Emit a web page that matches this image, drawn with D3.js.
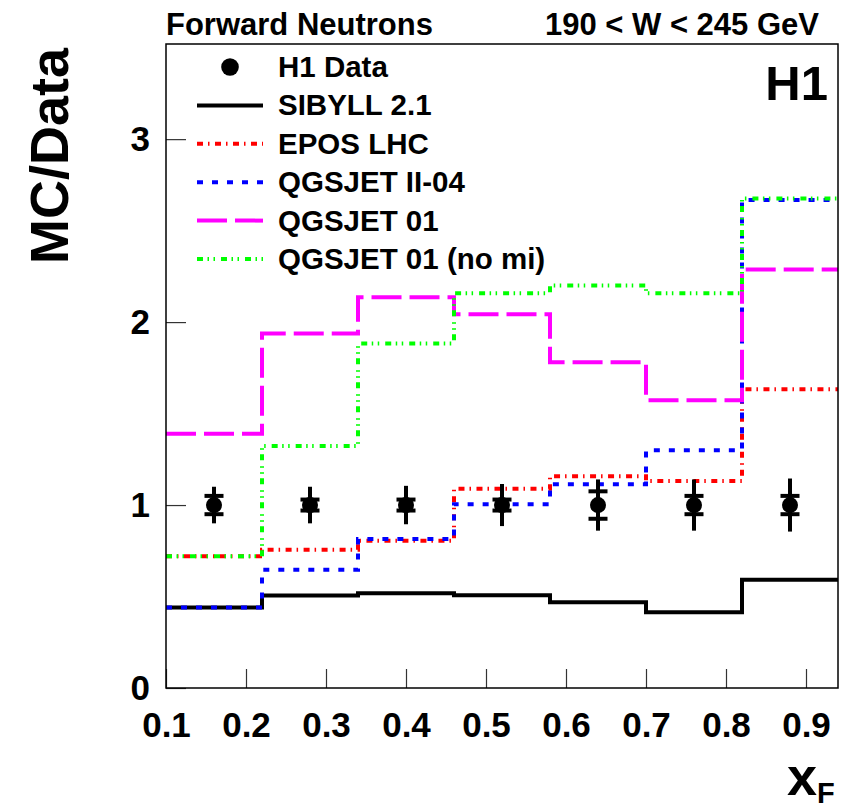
<!DOCTYPE html>
<html>
<head>
<meta charset="utf-8">
<script src="https://cdn.jsdelivr.net/npm/d3@7"></script>
<style>
  body { margin: 0; background: #fff; }
  text { font-family: "Liberation Sans", Arial, Helvetica, sans-serif; font-weight: bold; fill: #000; }
</style>
</head>
<body>
<div id="chart"></div>
<script>
// bins in x_F and the ratios MC/Data
var binEdges = [0.10, 0.22, 0.34, 0.46, 0.58, 0.70, 0.82, 0.94];
var xCentres = [0.16, 0.28, 0.40, 0.52, 0.64, 0.76, 0.88];
var h1Ratio = [1, 1, 1, 1, 1, 1, 1];
var h1StatErr = [0.05, 0.03, 0.03, 0.03, 0.075, 0.05, 0.05];
var h1TotErr = [0.10, 0.10, 0.105, 0.115, 0.14, 0.14, 0.145];
var sibyll = [0.44, 0.505, 0.518, 0.507, 0.469, 0.414, 0.591];
var epos = [0.72, 0.755, 0.805, 1.089, 1.157, 1.131, 1.633];
var qgsII = [0.44, 0.646, 0.815, 1.005, 1.113, 1.299, 2.667];
var qgs01 = [1.39, 1.938, 2.136, 2.043, 1.781, 1.573, 2.288];
var qgs01nomi = [0.72, 1.323, 1.883, 2.157, 2.20, 2.157, 2.676];
var xTicks = [0.1, 0.2, 0.3, 0.4, 0.5, 0.6, 0.7, 0.8, 0.9];
var yTicks = [0, 1, 2, 3];

var models = [
  { name: "SIBYLL 2.1", vals: sibyll, color: "#000000", dash: null },
  { name: "EPOS LHC", vals: epos, color: "#ff0000", dash: "6,5,1.5,5.5" },
  { name: "QGSJET II-04", vals: qgsII, color: "#0000ff", dash: "6,9" },
  { name: "QGSJET 01", vals: qgs01, color: "#ff00ff", dash: "30,8" },
  { name: "QGSJET 01 (no mi)", vals: qgs01nomi, color: "#00ff00", dash: "6,4.5,1.5,4.5,1.5,6" }
];

var svgWidth = 848, svgHeight = 810;
var margin = { top: 44, right: 10, bottom: 122, left: 166 };
var width = svgWidth - margin.left - margin.right;
var height = svgHeight - margin.top - margin.bottom;

var svg = d3.select("#chart").append("svg")
  .attr("width", svgWidth)
  .attr("height", svgHeight);

var g = svg.append("g")
  .attr("transform", `translate(${margin.left}, ${margin.top})`);

var x = d3.scaleLinear().domain([0.1, 0.94]).range([0, width]);
var y = d3.scaleLinear().domain([0, 3.52]).range([height, 0]);

// axes with inward ticks
var xAxis = g.append("g")
  .attr("transform", `translate(0, ${height})`)
  .call(d3.axisBottom(x).tickValues(xTicks).tickSize(-19).tickPadding(24).tickFormat(d3.format(".1f")));
var yAxis = g.append("g")
  .call(d3.axisLeft(y).tickValues(yTicks).tickSize(-20).tickPadding(16).tickFormat(d3.format("d")));

[xAxis, yAxis].forEach(function(a) {
  a.select(".domain").remove();
  a.selectAll(".tick line").attr("stroke", "#333").attr("stroke-width", 1.2);
  a.selectAll(".tick text").style("font-size", "35px").style("font-family", "Liberation Sans, Arial, sans-serif").style("font-weight", "bold");
});

// histograms as steps
var step = d3.line()
  .x(d => x(d[0]))
  .y(d => y(d[1]))
  .curve(d3.curveStepAfter);

models.forEach(function(m) {
  var pts = binEdges.slice(0, -1).map((e, i) => [e, m.vals[i]]);
  pts.push([binEdges[binEdges.length - 1], m.vals[m.vals.length - 1]]);
  g.append("path")
    .datum(pts)
    .attr("d", step)
    .attr("fill", "none")
    .attr("stroke", m.color)
    .attr("stroke-width", 4)
    .attr("stroke-dasharray", m.dash);
});

// H1 data points with error bars
var pts = g.selectAll(".pt")
  .data(xCentres.map((c, i) => ({ x: c, v: h1Ratio[i], s: h1StatErr[i], t: h1TotErr[i] })))
  .enter().append("g").attr("class", "pt");

pts.append("line")
  .attr("x1", d => x(d.x)).attr("x2", d => x(d.x))
  .attr("y1", d => y(d.v + d.t)).attr("y2", d => y(d.v - d.t))
  .attr("stroke", "#000").attr("stroke-width", 4);
[1, -1].forEach(function(sgn) {
  pts.append("line")
    .attr("x1", d => x(d.x) - 9.5).attr("x2", d => x(d.x) + 9.5)
    .attr("y1", d => y(d.v + sgn * d.s)).attr("y2", d => y(d.v + sgn * d.s))
    .attr("stroke", "#000").attr("stroke-width", 4);
});
pts.append("circle")
  .attr("cx", d => x(d.x)).attr("cy", d => y(d.v))
  .attr("r", 8).attr("fill", "#000");

// frame
g.append("rect")
  .attr("width", width).attr("height", height)
  .attr("fill", "none").attr("stroke", "#000").attr("stroke-width", 1.5);

// legend
var legend = svg.append("g").attr("transform", "translate(197, 67)");
var rowH = 38.4;
legend.append("circle").attr("cx", 33).attr("cy", 0).attr("r", 8.8).attr("fill", "#000");
legend.append("text").attr("x", 81).attr("y", 10).style("font-size", "29.5px").text("H1 Data");
models.forEach(function(m, i) {
  var yy = (i + 1) * rowH;
  legend.append("line")
    .attr("x1", 0).attr("x2", 66).attr("y1", yy).attr("y2", yy)
    .attr("stroke", m.color).attr("stroke-width", 4)
    .attr("stroke-dasharray", m.dash);
  legend.append("text").attr("x", 81).attr("y", yy + 10).style("font-size", "29.5px").text(m.name);
});

// labels
svg.append("text").attr("x", 166).attr("y", 35).style("font-size", "31px").text("Forward Neutrons");
svg.append("text").attr("x", 819).attr("y", 35).attr("text-anchor", "end").style("font-size", "31px").text("190 < W < 245 GeV");
svg.append("text").attr("x", 828).attr("y", 100).attr("text-anchor", "end").style("font-size", "49px").text("H1");

svg.append("text")
  .attr("transform", "translate(68, 156) rotate(-90)")
  .attr("text-anchor", "middle")
  .style("font-size", "54px")
  .text("MC/Data");

var xl = svg.append("text").attr("x", 787).attr("y", 795).style("font-size", "54px");
xl.append("tspan").text("x");
xl.append("tspan").attr("dy", 8).style("font-size", "29px").text("F");
</script>
</body>
</html>
